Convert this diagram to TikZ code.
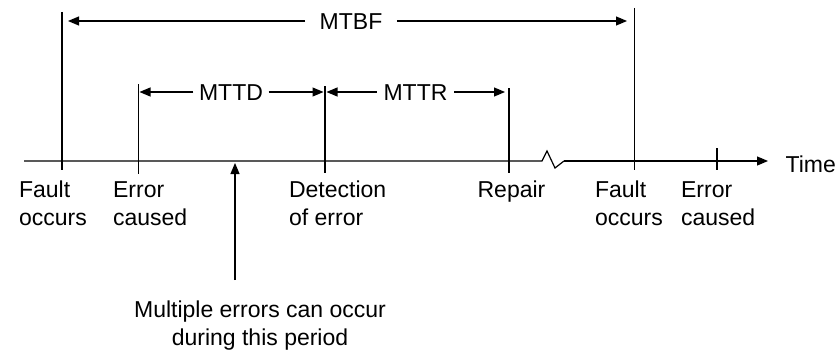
\documentclass[tikz,border=0pt]{standalone}
\usepackage{fontspec}
\setmainfont{Liberation Sans}
\usetikzlibrary{arrows.meta}
\begin{document}
\begin{tikzpicture}[x=1pt,y=-1pt,
  line width=1.2pt,
  tip/.style={-{Triangle[length=11pt,width=9pt]}},
  every node/.style={font=\fontsize{23}{28}\selectfont, inner sep=0pt},
  event/.style={anchor=base west, align=left},
  span/.style={text height=16.5pt, text depth=0pt, inner ysep=0pt, inner xsep=5pt},
]
\useasboundingbox (0,0) rectangle (840,353);

% time axis with a break
\coordinate (axL) at (24,161);
\coordinate (brA) at (542,161);
\coordinate (brB) at (547,151);
\coordinate (brC) at (555,168);
\coordinate (brD) at (564,161);
\coordinate (axR) at (768,161);
\draw (axL) -- (brA) -- (brB) -- (brC) -- (brD);
\draw[tip] (brD) -- (axR);
\node[anchor=base west] (time) at (785,172) {Time};

% event markers
\coordinate (f1t) at (62,12);   \coordinate (f1b) at (62,170);
\coordinate (e1t) at (138.5,84); \coordinate (e1b) at (138.5,174);
\coordinate (d1t) at (325,86);  \coordinate (d1b) at (325,173);
\coordinate (r1t) at (509,88);  \coordinate (r1b) at (509,173);
\coordinate (f2t) at (634.5,8); \coordinate (f2b) at (634.5,170);
\coordinate (e2t) at (717,148); \coordinate (e2b) at (717,170);
\foreach \m in {f1,e1,d1,r1,f2,e2} \draw (\m t) -- (\m b);

% event labels (base anchor sits on the last line)
\node[event] (lf1) at (18.5,225) {Fault\\occurs};
\node[event] (le1) at (112.5,225) {Error\\caused};
\node[event] (ld1) at (288.5,225) {Detection\\of error};
\node[event] (lr1) at (477,197) {Repair};
\node[event] (lf2) at (594.5,225) {Fault\\occurs};
\node[event] (le2) at (680.5,225) {Error\\caused};

% interval dimensions
\node[span, inner xsep=14pt] (mtbf) at (351,21) {MTBF};
\coordinate (mtbfL) at (68,21);
\coordinate (mtbfR) at (627,21);
\draw[tip] (mtbf.west) -- (mtbfL);
\draw[tip] (mtbf.east) -- (mtbfR);

\node[span] (mttd) at (231,92) {MTTD};
\coordinate (mttdL) at (139.5,92);
\coordinate (mttdR) at (323.5,92);
\draw[tip] (mttd.west) -- (mttdL);
\draw[tip] (mttd.east) -- (mttdR);

\node[span, inner xsep=6pt] (mttr) at (415.5,92) {MTTR};
\coordinate (mttrL) at (326.5,92);
\coordinate (mttrR) at (505,92);
\draw[tip] (mttr.west) -- (mttrL);
\draw[tip] (mttr.east) -- (mttrR);

% note on the detection period
\coordinate (period) at (235,163);
\coordinate (noteArrow) at (235,280);
\draw[tip] (noteArrow) -- (period);
\node[anchor=base, align=center] (note) at (260,345) {Multiple errors can occur\\during this period};
\end{tikzpicture}
\end{document}
